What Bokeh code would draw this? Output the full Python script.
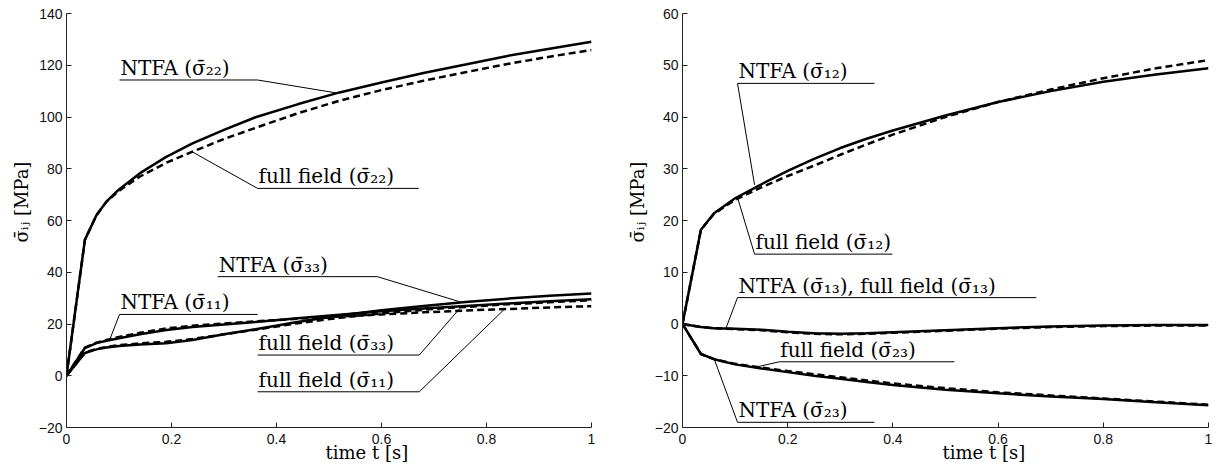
import numpy as np
from bokeh.plotting import figure
from bokeh.layouts import row
from bokeh.models import Range1d, FixedTicker, CustomJSTickFormatter, Title
from bokeh.embed import file_html
from bokeh.resources import INLINE
from bokeh.core.properties import value

# ---------------- data: left panel ----------------
t_left = [0, 0.035, 0.057, 0.076, 0.1, 0.14, 0.19, 0.24, 0.3, 0.36, 0.44, 0.52, 0.6, 0.68, 0.76, 0.84, 0.92, 1.0]
s22_ntfa = [0, 52.5, 62.0, 67.3, 72.0, 78.3, 84.6, 89.8, 95.0, 99.9, 104.9, 109.5, 113.3, 117.0, 120.3, 123.6, 126.4, 129.1]
s22_full = [0, 52.5, 62.0, 67.2, 71.5, 77.0, 82.3, 86.6, 91.5, 95.8, 101.4, 106.3, 110.4, 114.0, 117.3, 120.5, 123.3, 125.9]
s11_ntfa = [0, 10.7, 12.6, 13.5, 14.5, 16.0, 17.7, 18.8, 19.8, 20.8, 22.2, 23.6, 24.9, 26.0, 27.0, 27.9, 28.8, 29.6]
s11_full = [0, 10.9, 12.8, 13.8, 15.0, 16.6, 18.3, 19.3, 20.2, 21.0, 22.0, 22.9, 23.7, 24.5, 25.2, 25.8, 26.4, 26.9]
s33_ntfa = [0, 8.8, 10.2, 10.9, 11.5, 12.1, 12.6, 13.8, 16.0, 18.0, 20.8, 23.3, 25.3, 27.0, 28.5, 29.8, 30.9, 31.8]
s33_full = [0, 9.0, 10.4, 11.1, 11.8, 12.5, 13.1, 14.2, 16.0, 17.8, 20.3, 22.4, 24.1, 25.5, 26.6, 27.6, 28.4, 29.2]

# ---------------- data: right panel ----------------
t_right = [0, 0.035, 0.06, 0.1, 0.15, 0.2, 0.25, 0.3, 0.35, 0.4, 0.5, 0.6, 0.7, 0.8, 0.9, 1.0]
s12_ntfa = [0, 18.2, 21.4, 24.3, 27.0, 29.6, 31.9, 34.0, 35.8, 37.4, 40.3, 42.9, 45.0, 46.8, 48.2, 49.4]
s12_full = [0, 18.2, 21.3, 24.0, 26.4, 28.6, 30.6, 32.7, 34.7, 36.6, 40.0, 42.9, 45.3, 47.5, 49.4, 51.0]
s13_ntfa = [0, -0.6, -0.8, -0.9, -1.1, -1.5, -1.8, -1.9, -1.8, -1.6, -1.2, -0.8, -0.5, -0.3, -0.2, -0.2]
s13_full = [0, -0.6, -0.8, -1.0, -1.2, -1.6, -1.9, -2.0, -1.9, -1.7, -1.3, -0.9, -0.6, -0.4, -0.3, -0.3]
s23_ntfa = [0, -5.8, -6.8, -7.8, -8.6, -9.3, -10.0, -10.6, -11.2, -11.8, -12.7, -13.4, -14.0, -14.5, -15.1, -15.7]
s23_full = [0, -5.8, -6.8, -7.7, -8.4, -9.1, -9.7, -10.3, -10.9, -11.5, -12.4, -13.2, -13.8, -14.4, -15.0, -15.6]

x_ticks = [0, 0.2, 0.4, 0.6, 0.8, 1.0]
y_ticks_left = [-20, 0, 20, 40, 60, 80, 100, 120, 140]
y_ticks_right = [-20, -10, 0, 10, 20, 30, 40, 50, 60]

x_label = "time t [s]"
y_label = "σ̄ᵢⱼ [MPa]"

# annotations: label text, leader polyline (data units), text anchor
ann_left_text = ["NTFA (σ̄₂₂)", "full field (σ̄₂₂)", "NTFA (σ̄₃₃)", "NTFA (σ̄₁₁)",
                 "full field (σ̄₃₃)", "full field (σ̄₁₁)"]
ann_left_xs = [[0.101, 0.364, 0.514], [0.671, 0.364, 0.239], [0.288, 0.592, 0.749],
               [0.364, 0.101, 0.082], [0.364, 0.672, 0.749], [0.364, 0.672, 0.834]]
ann_left_ys = [[114.3, 114.3, 109.3], [72.4, 72.4, 86.6], [38.3, 38.3, 28.6],
               [23.7, 23.7, 13.8], [8.0, 8.0, 26.0], [-6.2, -6.2, 25.7]]
ann_left_tx = [0.101, 0.364, 0.288, 0.101, 0.364, 0.364]
ann_left_ty = [114.3, 72.4, 38.3, 23.7, 8.0, -6.2]

ann_right_text = ["NTFA (σ̄₁₂)", "full field (σ̄₁₂)", "NTFA (σ̄₁₃), full field (σ̄₁₃)",
                  "full field (σ̄₂₃)", "NTFA (σ̄₂₃)"]
ann_right_xs = [[0.365, 0.1046, 0.137], [0.399, 0.137, 0.105], [0.6725, 0.1046, 0.083],
                [0.517, 0.184, 0.143], [0.365, 0.1046, 0.061]]
ann_right_ys = [[46.5, 46.5, 26.9], [13.5, 13.5, 24.3], [5.1, 5.1, -0.7],
                [-7.3, -7.3, -8.25], [-19.0, -19.0, -6.96]]
ann_right_tx = [0.1046, 0.137, 0.1046, 0.184, 0.1046]
ann_right_ty = [46.5, 13.5, 5.1, -7.3, -19.0]

SERIF = "DejaVu Serif"
SANS = "Liberation Sans"
FRAME_H = 414
TEXT_GAP_PX = 12

x_fmt = CustomJSTickFormatter(code="""
if (Math.abs(tick) < 1e-9) return '0';
if (Math.abs(tick - 1) < 1e-9) return '1';
return tick.toFixed(1);
""")
y_fmt = CustomJSTickFormatter(code="""
return tick < 0 ? '\\u2212' + Math.abs(tick) : String(tick);
""")


def make_fig(width, bl, br, yr, yticks, x_off, y_off):
    p = figure(width=width, height=466, x_range=Range1d(0, 1), y_range=Range1d(*yr),
               output_backend="svg", toolbar_location=None,
               min_border_left=bl, min_border_right=br, min_border_top=13, min_border_bottom=39)
    p.xgrid.visible = False
    p.ygrid.visible = False
    p.outline_line_color = None
    p.background_fill_color = "white"
    p.border_fill_color = "white"
    for ax, ticks, fmt, so in ((p.xaxis[0], x_ticks, x_fmt, 6), (p.yaxis[0], yticks, y_fmt, 4)):
        ax.ticker = FixedTicker(ticks=ticks)
        ax.formatter = fmt
        ax.major_tick_in = 5
        ax.major_tick_out = 0
        ax.minor_tick_line_color = None
        ax.axis_line_color = "#222222"
        ax.major_tick_line_color = "#222222"
        ax.major_label_text_font = SANS
        ax.major_label_text_font_size = "14px"
        ax.major_label_text_color = "#111111"
        ax.major_label_standoff = so
    p.add_layout(Title(text=x_label, align="left", offset=x_off, standoff=-13,
                       text_font=SERIF, text_font_size="18px", text_font_style="normal",
                       text_color="black"), "below")
    p.add_layout(Title(text=y_label, align="left", offset=y_off, standoff=8,
                       text_font=SERIF, text_font_size="18px", text_font_style="normal",
                       text_color="black"), "left")
    return p


def add_annotations(p, yr, texts, xs, ys, tx, ty):
    dy = TEXT_GAP_PX * (yr[1] - yr[0]) / FRAME_H
    for txt, lx, ly, x0, y0 in zip(texts, xs, ys, tx, ty):
        p.line(lx, ly, line_width=1, line_color="black")
        p.text(x=[x0], y=[y0 + dy], text=[txt], text_font=value(SERIF), text_font_size="20px",
               text_align="left", text_baseline="alphabetic", x_offset=1,
               text_color="black")


yr_left = (-20, 140)
yr_right = (-20, 60)

p1 = make_fig(595, 66, 4, yr_left, y_ticks_left, 259, 185)
for ys, dash in ((s22_full, "7 4"), (s11_full, "7 4"), (s33_full, "7 4"),
                 (s22_ntfa, "solid"), (s11_ntfa, "solid"), (s33_ntfa, "solid")):
    p1.line(t_left, ys, line_width=2.5, line_color="black", line_dash=dash)
add_annotations(p1, yr_left, ann_left_text, ann_left_xs, ann_left_ys, ann_left_tx, ann_left_ty)

p2 = make_fig(621, 87, 8, yr_right, y_ticks_right, 260, 185)
for ys, dash in ((s12_full, "7 4"), (s13_full, "7 4"), (s23_full, "7 4"),
                 (s12_ntfa, "solid"), (s13_ntfa, "solid"), (s23_ntfa, "solid")):
    p2.line(t_right, ys, line_width=2.5, line_color="black", line_dash=dash)
add_annotations(p2, yr_right, ann_right_text, ann_right_xs, ann_right_ys, ann_right_tx, ann_right_ty)

layout = row(p1, p2)
with open("out.html", "w", encoding="utf-8") as f:
    f.write(file_html(layout, INLINE))
